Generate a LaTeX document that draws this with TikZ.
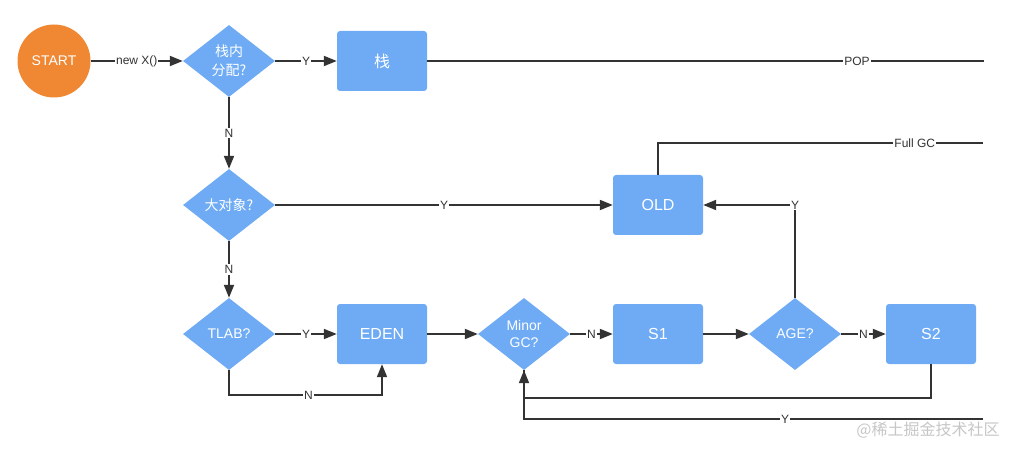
\documentclass[tikz,border=0pt]{standalone}
\usepackage{fontspec}
\setmainfont{Liberation Sans}
\newfontfamily\cjk{Noto Sans CJK SC}
\usetikzlibrary{shapes.geometric,arrows.meta}
\definecolor{boxblue}{HTML}{6EABF4}
\definecolor{startorange}{HTML}{EF8733}
\definecolor{linegray}{HTML}{333333}
\begin{document}
\begin{tikzpicture}[x=1pt,y=-1pt,
 box/.style={draw=none,fill=boxblue,rounded corners=3pt,minimum width=90pt,minimum height=60pt,text=white,font=\fontsize{16}{18}\selectfont,inner sep=0pt},
 dia/.style={diamond,fill=boxblue,minimum width=92pt,minimum height=72pt,inner sep=0pt,text=white,font=\fontsize{14}{17}\selectfont,align=center},
 conn/.style={draw=linegray,line width=1.8pt},
 arr/.style={conn,-{Triangle[length=13pt,width=10pt]}},
 lab/.style={fill=white,inner sep=1pt,text=linegray,font=\fontsize{12}{14}\selectfont}
]
\useasboundingbox (0,0) rectangle (1025,454);
\node[circle,fill=startorange,minimum size=73pt,inner sep=0pt,text=white,font=\fontsize{14}{16}\selectfont] (start) at (54,61) {START};
\node[dia,font=\cjk\fontsize{14}{19}\selectfont] (d1) at (229,61) {栈内\\分配?};
\node[box,font=\cjk\fontsize{16}{18}\selectfont] (stack) at (382,61) {栈};
\coordinate (popend) at (984,61);
\node[dia,font=\cjk\fontsize{14}{17}\selectfont] (d2) at (229,205) {大对象?};
\node[box] (old) at (658,205) {OLD};
\coordinate (fgcend) at (983,143);
\node[dia] (tlab) at (229,334) {TLAB?};
\node[box] (eden) at (382,334) {EDEN};
\node[dia] (mgc) at (524,334) {Minor\\GC?};
\node[box] (s1) at (658,334) {S1};
\node[dia] (age) at (795,334) {AGE?};
\node[box] (s2) at (931,334) {S2};
\coordinate (yend) at (983,419);
\coordinate (tl) at (229,395);
\coordinate (ret) at (524,398);
\node[text=gray!45,font=\cjk\fontsize{16}{18}\selectfont] (wm) at (928,430) {@稀土掘金技术社区};

\draw[arr] (start.east) -- node[lab]{new X()} (d1.west);
\draw[arr] (d1.east) -- node[lab]{Y} (stack.west);
\draw[conn] (stack.east) -- node[lab,pos=0.772]{POP} (popend);
\draw[arr] (d1.south) -- node[lab]{N} (d2.north);
\draw[arr] (d2.east) -- node[lab]{Y} (old.west);
\draw[conn] (old.north) |- node[lab,pos=0.895]{Full GC} (fgcend);
\draw[arr] (age.north) |- node[lab,pos=0.5]{Y} (old.east);
\draw[arr] (d2.south) -- node[lab]{N} (tlab.north);
\draw[arr] (tlab.east) -- node[lab]{Y} (eden.west);
\draw[arr] (tlab.south) -- (tl) -| node[lab,pos=0.26]{N} (eden.south);
\draw[arr] (eden.east) -- (mgc.west);
\draw[arr] (mgc.east) -- node[lab]{N} (s1.west);
\draw[arr] (s1.east) -- (age.west);
\draw[arr] (age.east) -- node[lab]{N} (s2.west);
\draw[conn] (mgc.south) -- (mgc.south |- yend) -- node[lab,pos=0.569]{Y} (yend);
\draw[arr] (s2.south) |- (ret) -- (mgc.south);
\end{tikzpicture}
\end{document}
